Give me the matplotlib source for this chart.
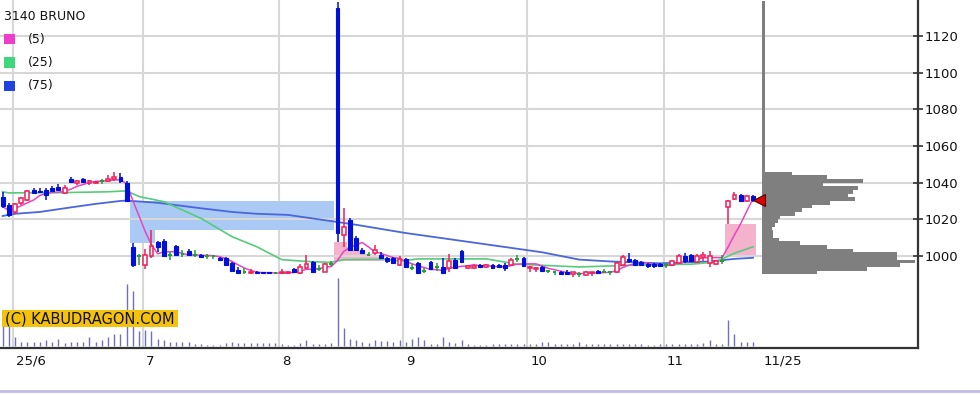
import matplotlib
matplotlib.use("Agg")
import matplotlib.pyplot as plt
import matplotlib.transforms as mtransforms
from matplotlib.patches import Rectangle
from matplotlib.lines import Line2D
import numpy as np

# ---------------- data ----------------
ticker = "3140 BRUNO"
ma_names = ["(5)", "(25)", "(75)"]
copyright_text = "(C) KABUDRAGON.COM"

# daily candles (open, high, low, close), 29 May 2025 .. 25 Nov 2025
ohlc_may = [(1032, 1035, 1026, 1027), (1028, 1029, 1021, 1022.5)]
ohlc_jun = [
    (1024, 1029, 1023, 1028.5), (1029, 1032, 1028, 1031.5), (1030.5, 1036, 1030, 1035.5),
    (1036, 1037, 1034, 1034.5), (1035.5, 1037, 1034.5, 1035), (1036, 1037, 1030.5, 1033),
    (1037, 1038, 1035, 1035.5), (1037.5, 1039, 1036, 1036), (1034.5, 1038.5, 1034, 1037),
    (1042, 1043, 1040, 1040.5), (1040, 1041.5, 1038.5, 1041), (1042, 1042.5, 1040, 1040.5),
    (1040, 1041.5, 1038.5, 1041), (1040, 1041, 1039, 1040.5), (1041, 1042, 1039, 1041),
    (1041, 1044, 1040.5, 1042), (1042, 1046, 1041, 1043), (1043, 1045, 1040, 1041),
    (1040, 1041, 1030, 1030), (1005, 1007, 994, 995), (1000, 1001, 995, 1000),
]
ohlc_jul = [
    (995, 1004, 993, 1000.5), (1000, 1014, 999, 1005.5), (1007.5, 1008, 1002, 1005),
    (1008, 1009, 999.5, 1000), (1000.5, 1002, 998, 1000.5), (1005.5, 1006, 1000, 1000.5),
    (1001, 1003, 999.5, 1001), (1002.5, 1004, 1000, 1000.5), (1000.5, 1003.5, 999.5, 1000.5),
    (1000.5, 1001, 999, 999.5), (1000, 1001, 998.5, 1000), (1000, 1000.5, 998.5, 1000),
    (999, 999.5, 997.5, 998), (999, 999.5, 994.5, 995), (996, 996.5, 991.5, 992),
    (992.5, 994, 990, 990.5), (991.5, 993.5, 990, 991.5), (990.5, 993, 990, 991.5),
    (991.5, 992, 990, 990.5), (991, 991.5, 990, 990.5), (991, 991.5, 990, 990.5),
    (990.5, 991.5, 990, 990.5),
]
ohlc_aug = [
    (990.5, 993, 990, 991), (990.5, 992, 990, 991.5), (993, 993.5, 990.5, 991.5),
    (990.5, 995.5, 990, 994), (993.5, 1000.5, 993, 995.5), (996.5, 997, 991, 991.5),
    (993, 995, 992, 993), (991.5, 996, 991, 995.5), (995.5, 997, 994.5, 995.5),
    (1135, 1138.5, 1007.5, 1012.5), (1011.5, 1026, 1005, 1016), (1019.5, 1020.5, 1003, 1003.5),
    (1010, 1011, 1002.5, 1003), (1003, 1004.5, 1001, 1001.5), (1000.5, 1002, 1000, 1000.5),
    (1001.5, 1006, 1000.5, 1003), (1000.5, 1002, 998.5, 999), (999, 999.5, 996, 997),
    (999, 999.5, 995.5, 996), (995, 1000, 994.5, 998.5),
]
ohlc_sep = [
    (998.5, 999, 993.5, 994), (993.5, 995.5, 992.5, 993.5), (996, 996.5, 990, 990.5),
    (992, 993.5, 990.5, 992), (996.5, 997, 992.5, 993), (994, 996, 992, 994),
    (994, 999, 990, 990.5), (993.5, 1001, 991, 997.5), (998, 999, 993, 993.5),
    (1002.5, 1003, 996, 996.5), (993.5, 995, 993, 994.5), (993.5, 995, 993, 994.5),
    (995, 995.5, 993.5, 994), (994, 995.5, 993.5, 995), (995, 995.5, 993, 993.5),
    (995, 995.5, 993.5, 994), (995, 996, 992, 993.5), (995, 999, 994.5, 998),
    (998.5, 1000.5, 996.5, 998.5), (999, 999.5, 994, 994.5),
]
ohlc_oct = [
    (993.5, 994.5, 991.5, 994), (993, 994, 991.5, 993.5), (994, 994.5, 991.5, 992),
    (992, 992.5, 990.5, 992), (991, 991.5, 989.5, 991), (991.5, 992, 989.5, 990),
    (991, 992.5, 990, 990), (990, 991.5, 988.5, 991), (990, 991, 988.5, 990),
    (989.5, 992, 989, 991.5), (990.5, 991.5, 989, 991), (992, 992.5, 990, 990.5),
    (991.5, 993, 990.5, 991.5), (991, 992, 989.5, 991), (991, 996.5, 990.5, 996),
    (995, 1000.5, 994.5, 999.5), (998.5, 1001.5, 996, 997), (998, 998.5, 994.5, 995),
    (996.5, 997, 994.5, 995), (995.5, 996, 993.5, 994.5), (995.5, 996, 993.5, 994.5),
    (995.5, 996, 994, 994.5),
]
ohlc_nov = [
    (995, 996, 993.5, 995), (995, 998, 994.5, 997), (996, 1001, 995.5, 1000),
    (1000, 1001.5, 996, 997), (1000.5, 1001, 997, 997.5), (996.5, 1001, 996, 1000),
    (999.5, 1002, 997.5, 1000.5), (996, 1002.5, 994, 1000), (995.5, 998, 995, 997.5),
    (997, 1000.5, 995.5, 997), (1026.5, 1030.5, 1017.5, 1030), (1031, 1035, 1030.5, 1033),
    (1033.5, 1034, 1029.5, 1030), (1030, 1033, 1029.5, 1032.5), (1032.5, 1033.5, 1029.5, 1030.5),
]

volume = [
    26, 26, 9, 4, 4, 4, 4, 6, 4, 7, 3, 4, 4, 4, 9, 4, 6, 9, 12, 12,
    62, 55, 15, 16, 15, 7, 6, 4, 4, 4, 4, 2, 2, 1, 1.5, 1.5, 3, 4, 3, 3,
    3, 3, 3, 3, 3, 2, 1, 1.5, 3, 6, 2, 2, 2, 3, 68, 18, 7, 6, 4, 3,
    6, 5, 5, 4, 6, 4, 7, 9, 6, 2, 2, 9, 4, 3, 6, 2, 1, 1, 1, 2,
    2, 2, 2, 2, 2, 2, 2, 4, 4, 2, 2, 2, 2, 4, 2, 2, 2, 2, 2, 2,
    2, 2, 2, 2, 1, 1, 2, 2, 2, 2, 2, 2, 2, 3, 6, 2, 2, 26, 12, 4,
    4, 4,
]

# moving averages (day index, price)
ma25_day = [0, 1, 9, 17, 20, 22, 26, 32, 37, 41, 45, 49, 53, 55, 62, 64, 67, 78, 83, 93, 102, 111, 115, 118, 121]
ma25_val = [1035, 1034.4, 1034.5, 1035, 1035.5, 1032.4, 1029.6, 1020.5, 1010.5, 1005, 998, 997, 996.5,
            998, 998.2, 997.2, 998.4, 998.4, 995.5, 994, 995, 995.5, 996.7, 1001.5, 1005]
ma75_day = [0, 2, 6, 10, 15, 19, 20, 25, 32, 37, 41, 46, 54, 57, 65, 73, 82, 87, 93, 98, 106, 114, 118, 121]
ma75_val = [1021.8, 1023, 1024, 1026, 1028.4, 1030, 1030.2, 1029, 1026, 1024, 1023, 1022.4, 1018.5,
            1017, 1012.5, 1008.7, 1004.4, 1002, 998, 997, 996, 997, 998.4, 999]

# price volume profile (2-yen bins from 990)
prof_lo = list(range(990, 1046, 2))
prof_vol = [55, 105, 138, 153, 135, 135, 91, 65, 38, 17, 11, 11, 10, 13, 16, 18, 33, 40, 50, 68,
            93, 86, 91, 96, 61, 101, 65, 30]
prof_tail = (1046, 1139, 3)   # thin band up to the spike high

month_labels = ["25/6", "7", "8", "9", "10", "11"]
last_label = "11/25"

# ---------------- prep ----------------
months = [ohlc_may, ohlc_jun, ohlc_jul, ohlc_aug, ohlc_sep, ohlc_oct, ohlc_nov]
ohlc = sum(months, [])
opens, highs, lows, closes = (np.array(c, dtype=float) for c in zip(*ohlc))
n = len(closes)
days = np.arange(n)
month_start = np.cumsum([len(m) for m in months])[:-1]

ma5 = np.array([closes[max(0, k - 4):k + 1].mean() for k in range(n)])

C_UP = "#ee1f5a"
C_DN = "#0010d8"
C_EQ = "#1f9e3a"
GRID = "#d7d7d7"

W, H = 980, 395
fig = plt.figure(figsize=(W / 100, H / 100), dpi=100)
rect = [0, 47 / H, 918 / W, 348 / H]
ax = fig.add_axes(rect, zorder=1)
ax_vol = fig.add_axes(rect, sharex=ax, zorder=1.5, facecolor="none")
ax_prof = fig.add_axes([762 / W, 47 / H, 156 / W, 348 / H], zorder=2, facecolor="none")

ax.set_xlim(-0.42, 147.6)
ax.set_ylim(949.8, 1139.6)

# grid
ax.set_yticks(range(1000, 1121, 20))
ax.grid(axis="y", color=GRID, lw=1.5, zorder=0)
for m in month_start:
    ax.axvline(m - 0.4, color=GRID, lw=1.5, zorder=0)


# windows (price gaps) still open
def gap_windows(min_gap=3):
    out = []
    for d in range(1, n):
        if lows[d - 1] - highs[d] >= min_gap:
            top, edge = lows[d - 1], highs[d]
            xs, lo, hi = [d], [edge], [top]
            for k in range(d + 1, n):
                if highs[k - 1] > edge:
                    edge = highs[k - 1]
                if highs[k] >= top:
                    break
                xs.append(k); lo.append(edge); hi.append(top)
            out.append((xs, lo, hi, "#aac9f4"))
        elif lows[d] - highs[d - 1] >= min_gap:
            bot, edge = highs[d - 1], lows[d]
            xs, lo, hi = [d], [bot], [edge]
            for k in range(d + 1, n):
                if lows[k - 1] < edge:
                    edge = lows[k - 1]
                if lows[k] <= bot:
                    break
                xs.append(k); lo.append(bot); hi.append(edge)
            out.append((xs, lo, hi, "#f5b2cd"))
    return out


for xs, lo, hi, col in gap_windows():
    xe = np.r_[np.array(xs) - 0.5, xs[-1] + 0.5]
    ax.fill_between(xe, lo + lo[-1:], hi + hi[-1:], step="post", color=col, lw=0, zorder=1)

# moving averages
ax.plot(ma75_day, ma75_val, color="#4a66dc", lw=1.3, zorder=2)
ax.plot(ma25_day, ma25_val, color="#55cc7a", lw=1.2, zorder=2)
ax.plot(days, ma5, color="#e646c0", lw=1.1, zorder=2)

# candles
up = closes > opens
dn = closes < opens
eq = closes == opens
bw = 0.62
cols = np.where(up, C_UP, np.where(dn, C_DN, C_EQ))
ax.vlines(days, lows, highs, colors=cols, lw=1.1, zorder=3)
ax.bar(days[up], (closes - opens)[up], bottom=opens[up], width=bw, facecolor="white",
       edgecolor=C_UP, lw=1.1, zorder=4)
ax.bar(days[dn], (closes - opens)[dn], bottom=opens[dn], width=bw, facecolor=C_DN,
       edgecolor=C_DN, lw=0.8, zorder=4)
ax.hlines(closes[eq], days[eq] - bw / 2, days[eq] + bw / 2, colors=C_EQ, lw=1.4, zorder=4)

# volume
ax_vol.set_ylim(-2, 346)
ax_vol.vlines(days, 0, volume, colors="#6f6fbb", lw=1.0)
ax_vol.axis("off")

# price profile
ax_prof.set_xlim(0, 156)
ax_prof.set_ylim(ax.get_ylim())
ax_prof.barh(prof_lo, prof_vol, height=2, left=0, align="edge", color="#7f7f7f", lw=0)
ax_prof.barh(prof_tail[0], prof_tail[2], height=prof_tail[1] - prof_tail[0], left=0,
             align="edge", color="#7f7f7f", lw=0)
ax_prof.axis("off")
# latest close marker
ax_prof.plot([days[-1] + 1.0], [closes[-1]], marker="<", ms=9, color="#e00000",
             mec="#500000", mew=0.8, transform=ax.transData, clip_on=False, zorder=5)

# axes cosmetics
for s in ("left", "top"):
    ax.spines[s].set_visible(False)
for s in ("right", "bottom"):
    ax.spines[s].set_color("#333333")
    ax.spines[s].set_linewidth(1.6)
ax.yaxis.tick_right()
ax.tick_params(axis="y", direction="inout", length=7, width=1.2, color="#333333",
               labelsize=9.5, pad=1, labelcolor="#111111")
xt = list(month_start - 0.4) + [days[-1] + 1.2]
ax.set_xticks(xt)
ax.set_xticklabels(month_labels + [last_label])
ax.tick_params(axis="x", length=0, labelsize=9.5, pad=5, labelcolor="#111111")
offset = mtransforms.ScaledTranslation(3 / 100, 0, fig.dpi_scale_trans)
for lab in ax.get_xticklabels():
    lab.set_horizontalalignment("left")
    lab.set_transform(lab.get_transform() + offset)

# legend block
fig.text(4 / W, 1 - 10 / H, ticker, fontsize=9, va="top", ha="left", color="#111111")
for k, (name, col) in enumerate(zip(ma_names, ["#ee3dc8", "#3fd77e", "#2143e0"])):
    yc = 39 + 23.5 * k
    fig.add_artist(Rectangle((4 / W, 1 - (yc + 5) / H), 11 / W, 10 / H,
                             transform=fig.transFigure, color=col, lw=0, zorder=5))
    fig.text(28 / W, 1 - yc / H, name, fontsize=9, va="center", ha="left", color="#111111")

# copyright tag
fig.add_artist(Rectangle((2 / W, 1 - 327 / H), 176 / W, 17 / H,
                         transform=fig.transFigure, color="#f4c20d", lw=0, zorder=3))
fig.text(5 / W, 1 - 318.5 / H, copyright_text, fontsize=10.5, va="center", ha="left",
         color="#111111", zorder=4)

# bottom frame line
fig.add_artist(Line2D([0, 1], [1 - 391 / H] * 2, transform=fig.transFigure,
                      color="#bdbde6", lw=2))

fig.savefig("out.png", dpi=100, facecolor="white")
